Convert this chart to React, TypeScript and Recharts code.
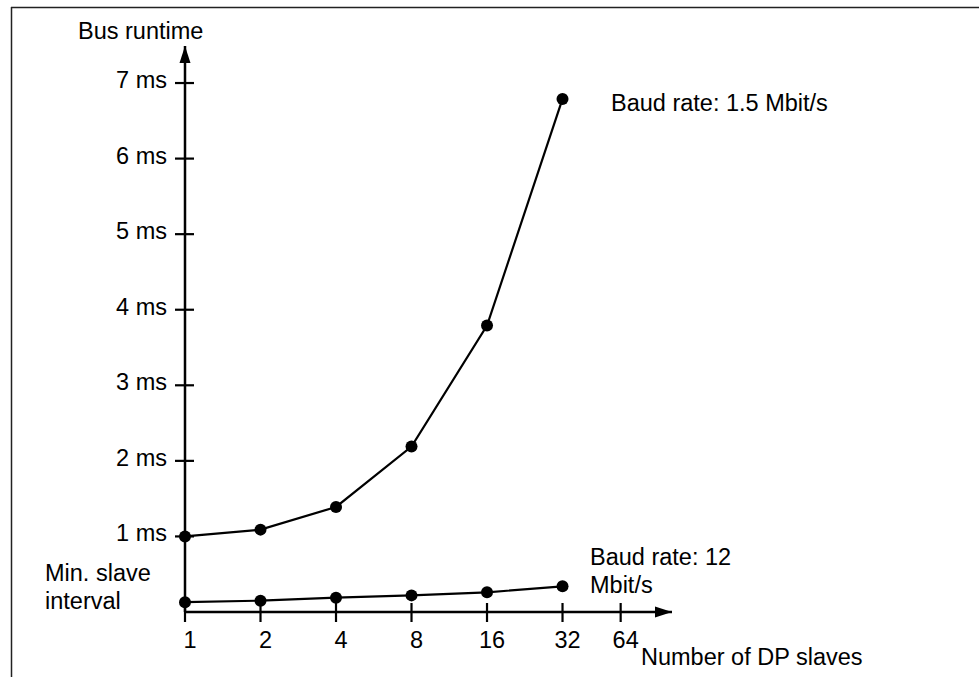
import React from 'react';
import { LineChart, Line, XAxis, YAxis, ReferenceDot, Customized } from 'recharts';

// number of DP slaves measured
const slaveCounts = [1, 2, 4, 8, 16, 32];
// bus runtime in ms
const baud15 = [1.0, 1.09, 1.39, 2.19, 3.79, 6.79];
const baud12 = [0.13, 0.15, 0.19, 0.22, 0.26, 0.34];

// x axis ticks (log2 scale, 64 is squeezed in the original drawing)
const xTickPos = [0, 1, 2, 3, 4, 5, 5.77];
const xTickLabels = ['1', '2', '4', '8', '16', '32', '64'];
const yTicks = [1, 2, 3, 4, 5, 6, 7];

const xMax = 6.45;
const yMax = 7.49;

const FONT = '"Liberation Sans", Arial, sans-serif';
const FS = 23.5;

const data = slaveCounts.map((n, i) => ({
  pos: Math.log2(n),
  baud15: baud15[i],
  baud12: baud12[i],
}));

const YTick = (props: any) => {
  const { x, y, payload } = props;
  return (
    <g>
      <line x1={x - 10} x2={x + 9} y1={y} y2={y} stroke="#000" strokeWidth={2.2} />
      <text x={x - 18} y={y - 3} textAnchor="end" dominantBaseline="central"
        fontSize={FS} fontFamily={FONT} fill="#000">
        {payload.value} ms
      </text>
    </g>
  );
};

const XTick = (props: any) => {
  const { x, y, payload } = props;
  const idx = xTickPos.indexOf(payload.value);
  return (
    <g>
      <line x1={x} x2={x} y1={y - 9} y2={y + 10} stroke="#000" strokeWidth={2.2} />
      <text x={x + 5} y={y + 28} textAnchor="middle" dominantBaseline="central"
        fontSize={FS} fontFamily={FONT} fill="#000">
        {xTickLabels[idx]}
      </text>
    </g>
  );
};

const UpArrow = (p: any) => (
  <path d={`M${p.cx},${p.cy} L${p.cx - 5.5},${p.cy + 17} L${p.cx + 5.5},${p.cy + 17} Z`} fill="#000" />
);
const RightArrow = (p: any) => (
  <path d={`M${p.cx},${p.cy} L${p.cx - 17},${p.cy - 5.5} L${p.cx - 17},${p.cy + 5.5} Z`} fill="#000" />
);

const Annotations = () => {
  const t = (x: number, y: number, s: string) => (
    <text key={s} x={x} y={y} dominantBaseline="central" fontSize={FS} fontFamily={FONT} fill="#000">
      {s}
    </text>
  );
  return (
    <g>
      <line x1={11} y1={7.5} x2={979} y2={7.5} stroke="#222" strokeWidth={1.5} />
      <line x1={11.5} y1={7} x2={11.5} y2={677} stroke="#222" strokeWidth={1.5} />
      {t(78, 31, 'Bus runtime')}
      {t(611, 103, 'Baud rate: 1.5 Mbit/s')}
      {t(590, 557, 'Baud rate: 12')}
      {t(590, 585, 'Mbit/s')}
      {t(45, 573, 'Min. slave')}
      {t(45, 601, 'interval')}
      {t(641, 657, 'Number of DP slaves')}
    </g>
  );
};

const dotStyle = { r: 6, fill: '#000', stroke: '#000', strokeWidth: 0 };

export default function App() {
  return (
    <div style={{ position: 'absolute', left: 0, top: 0, width: 979, height: 677, background: '#fff' }}>
      <LineChart width={979} height={677} data={data}
        margin={{ top: 46, right: 307, bottom: 25, left: 125 }}>
        <XAxis dataKey="pos" type="number" domain={[0, xMax]} ticks={xTickPos}
          height={40} tickSize={0} tickMargin={0} tickLine={false}
          axisLine={{ stroke: '#000', strokeWidth: 2.5 }} tick={<XTick />} interval={0} />
        <YAxis type="number" domain={[0, yMax]} ticks={yTicks}
          width={60} tickSize={0} tickMargin={0} tickLine={false}
          axisLine={{ stroke: '#000', strokeWidth: 2.5 }} tick={<YTick />} interval={0} />
        <Line dataKey="baud15" stroke="#000" strokeWidth={2.2} isAnimationActive={false} dot={dotStyle} />
        <Line dataKey="baud12" stroke="#000" strokeWidth={2.2} isAnimationActive={false} dot={dotStyle} />
        <ReferenceDot x={0} y={yMax} r={0} ifOverflow="visible" shape={UpArrow} />
        <ReferenceDot x={xMax} y={0} r={0} ifOverflow="visible" shape={RightArrow} />
        <Customized component={Annotations} />
      </LineChart>
    </div>
  );
}
